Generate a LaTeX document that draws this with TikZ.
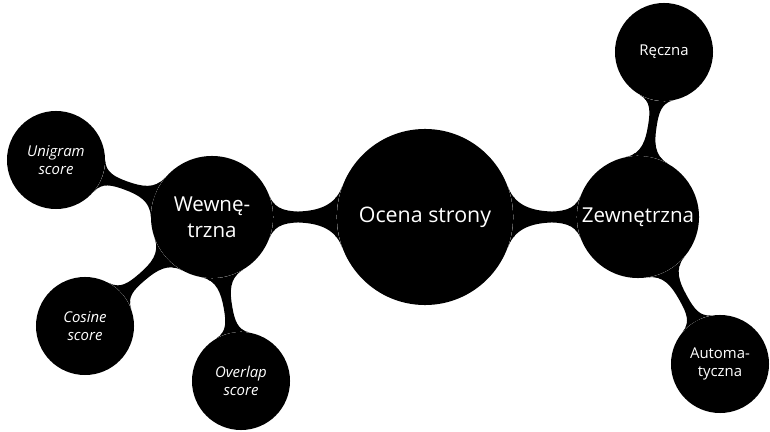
\documentclass[tikz,border=0pt]{standalone}
\usepackage{fontspec}
\setsansfont{Open Sans}
\usetikzlibrary{mindmap}
\begin{document}
\begin{tikzpicture}[x=0.025cm, y=-0.025cm, concept color=black,
  bubble/.style={circle, fill=black, text=white, inner sep=0pt, align=center},
  rootbubble/.style={bubble, minimum size=4.4cm, font=\sffamily\fontsize{15.2}{19}\selectfont},
  midbubble/.style={bubble, minimum size=3.05cm, font=\sffamily\fontsize{14.6}{18.5}\selectfont},
  leafbubble/.style={bubble, minimum size=2.45cm, font=\sffamily\fontsize{10.6}{12.5}\selectfont},
  bigbar/.style={circle connection bar switch color=from (black) to (black), line width=0.26cm},
  smallbar/.style={circle connection bar switch color=from (black) to (black), line width=0.17cm},
]
\useasboundingbox (0,0) rectangle (770,432);

% concepts
\node[rootbubble] (root) at (425,217) {Ocena strony};
\node[midbubble] (wew) at (212,217) {Wewnę-\\trzna};
\node[midbubble] (zew) at (638,217) {Zewnętrzna};
\node[leafbubble] (uni) at (56,160) {\itshape Unigram\\\itshape score};
\node[leafbubble] (cos) at (85,326) {\itshape Cosine\\\itshape score};
\node[leafbubble] (ovl) at (241,381) {\itshape Overlap\\\itshape score};
\node[leafbubble] (rec) at (664,52) {Ręczna};
\node[leafbubble] (aut) at (720,364) {Automa-\\tyczna};

% connection bars
\path (root) to[bigbar] (wew);
\path (root) to[bigbar] (zew);
\path (wew) to[smallbar] (uni);
\path (wew) to[smallbar] (cos);
\path (wew) to[smallbar] (ovl);
\path (zew) to[smallbar] (rec);
\path (zew) to[smallbar] (aut);
\end{tikzpicture}
\end{document}
